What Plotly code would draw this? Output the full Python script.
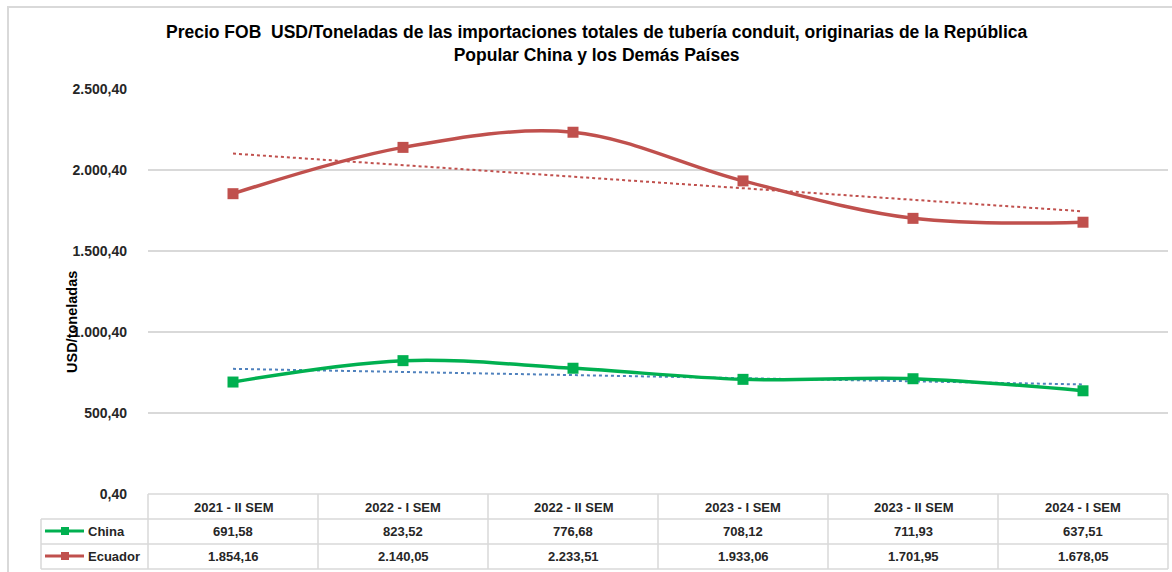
import numpy as np
import plotly.graph_objects as go

categories = ["2021 - II SEM", "2022 - I SEM", "2022 - II SEM", "2023 - I SEM", "2023 - II SEM", "2024 - I SEM"]
china = [691.58, 823.52, 776.68, 708.12, 711.93, 637.51]
ecuador = [1854.16, 2140.05, 2233.51, 1933.06, 1701.95, 1678.05]
y_ticks = [0.40, 500.40, 1000.40, 1500.40, 2000.40, 2500.40]

W, H = 1172, 572
L, R, T, B = 148, 1168, 89, 494
FONT = "Liberation Sans Narrow, Liberation Sans, Arial, sans-serif"
TXT = "#262626"
GRID = "#D9D9D9"
GREEN = "#00B050"
RED = "#C0504D"
BLUE = "#4F81BD"


def fmt(v):
    s = f"{v:,.2f}"
    return s.replace(",", "X").replace(".", ",").replace("X", ".")


def px(x):
    return (x - L) / (R - L)


def py(y):
    return (B - y) / (B - T)


xs = np.arange(len(categories))
fig = go.Figure()

# trend lines (linear fit computed from data)
for vals, col in [(ecuador, RED), (china, BLUE)]:
    k, b = np.polyfit(xs, vals, 1)
    fig.add_trace(go.Scatter(x=xs, y=k * xs + b, mode="lines",
                             line=dict(color=col, width=2, dash="dot"),
                             hoverinfo="skip", showlegend=False))

for name, vals, col in [("Ecuador", ecuador, RED), ("China", china, GREEN)]:
    fig.add_trace(go.Scatter(x=xs, y=vals, name=name, mode="lines+markers",
                             line=dict(color=col, width=3.5, shape="spline", smoothing=1),
                             marker=dict(symbol="square", size=11, color=col),
                             cliponaxis=False, showlegend=False))

shapes = []
# outer border
shapes.append(dict(type="rect", xref="paper", yref="paper",
                   x0=px(8), x1=px(1185), y0=py(585), y1=py(7),
                   line=dict(color=GRID, width=2), layer="below"))
# table lines
colw = (R - L) / len(categories)
hl = [(494, L), (519, 41), (544, 41), (569, 41)]
for yy, x0 in hl:
    shapes.append(dict(type="line", xref="paper", yref="paper",
                       x0=px(x0), x1=px(R), y0=py(yy), y1=py(yy),
                       line=dict(color=GRID, width=1.5)))
shapes.append(dict(type="line", xref="paper", yref="paper",
                   x0=px(41), x1=px(41), y0=py(519), y1=py(569),
                   line=dict(color=GRID, width=1.5)))
for i in range(len(categories) + 1):
    xx = L + i * colw
    shapes.append(dict(type="line", xref="paper", yref="paper",
                       x0=px(xx), x1=px(xx), y0=py(494), y1=py(569),
                       line=dict(color=GRID, width=1.5)))

annotations = []
# legend keys in table
for (name, col, yy) in [("China", GREEN, 531), ("Ecuador", RED, 556)]:
    shapes.append(dict(type="line", xref="paper", yref="paper",
                       x0=px(45), x1=px(84), y0=py(yy), y1=py(yy),
                       line=dict(color=col, width=3)))
    shapes.append(dict(type="rect", xref="paper", yref="paper",
                       x0=px(61), x1=px(69), y0=py(yy + 4), y1=py(yy - 4),
                       line=dict(color=col, width=0), fillcolor=col))
    annotations.append(dict(x=px(86), y=py(yy), xref="paper", yref="paper",
                            text=f"<b>{name}</b>", showarrow=False, xanchor="left", yanchor="middle",
                            font=dict(family=FONT, size=13, color=TXT)))

for i, c in enumerate(categories):
    for txt, yy in [(c, 507), (fmt(china[i]), 531), (fmt(ecuador[i]), 556)]:
        annotations.append(dict(x=i, y=py(yy), xref="x", yref="paper", text=f"<b>{txt}</b>",
                                showarrow=False, xanchor="center", yanchor="middle",
                                font=dict(family=FONT, size=13, color=TXT)))

# title
annotations.append(dict(x=px(597), y=py(44), xref="paper", yref="paper",
                        text="<b>Precio FOB  USD/Toneladas de las importaciones totales de tubería conduit, originarias de la República<br>Popular China y los Demás Países</b>",
                        showarrow=False, xanchor="center", yanchor="middle",
                        font=dict(family=FONT, size=17.5, color="#000000")))
# y-axis title
annotations.append(dict(x=px(72), y=py(322), xref="paper", yref="paper",
                        text="<b>USD/toneladas</b>", textangle=-90, showarrow=False,
                        xanchor="center", yanchor="middle",
                        font=dict(family=FONT, size=14.5, color="#000000")))

fig.update_layout(
    width=W, height=H,
    margin=dict(l=L, r=W - R, t=T, b=H - B, pad=0),
    plot_bgcolor="white", paper_bgcolor="white",
    shapes=shapes, annotations=annotations,
    xaxis=dict(range=[-0.5, len(categories) - 0.5], showticklabels=False,
               showgrid=False, zeroline=False, showline=False, fixedrange=True),
    yaxis=dict(range=[y_ticks[0], y_ticks[-1]], tickvals=y_ticks,
               ticktext=[f"<b>{fmt(v)}</b>" for v in y_ticks],
               tickfont=dict(family=FONT, size=14, color=TXT),
               showgrid=True, gridcolor=GRID, gridwidth=1.5, zeroline=False,
               showline=False, ticks="", ticklabelstandoff=20),
    showlegend=False,
)

fig.write_html("out.html", post_script="document.body.style.margin='0';",
               config={"displayModeBar": False})
